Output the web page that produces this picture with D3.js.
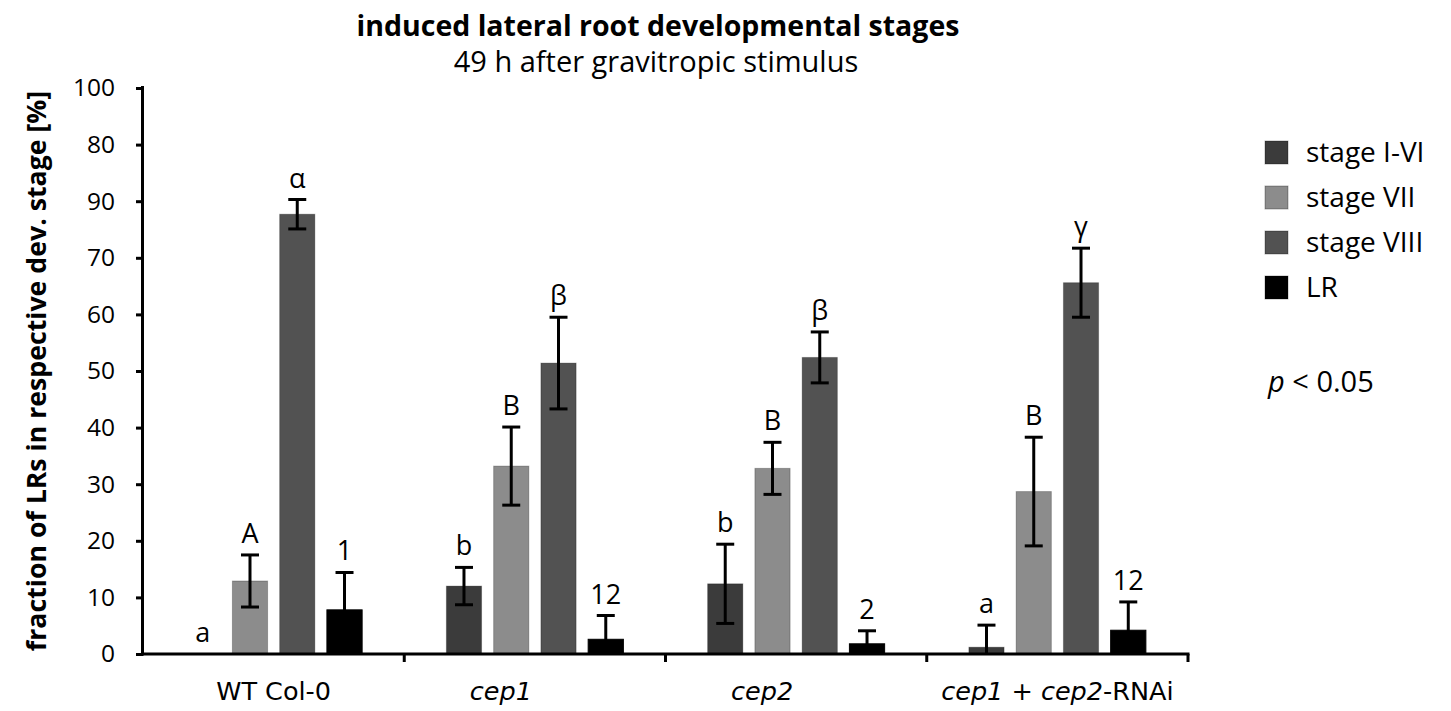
<!DOCTYPE html>
<html>
<head>
<meta charset="utf-8">
<script src="https://cdn.jsdelivr.net/npm/d3@7"></script>
<style>
  body { margin: 0; background: #fff; }
  text { font-family: "Open Sans", sans-serif; fill: #000; }
</style>
</head>
<body>
<script>
// categories and series
const groups = ["WT Col-0", "cep1", "cep2", "cep1 + cep2-RNAi"];
const series = ["stage I-VI", "stage VII", "stage VIII", "LR"];
const seriesColors = ["#3b3b3b", "#8c8c8c", "#525252", "#000000"];

// mean values per series, one entry per group
const stageIVI  = [0.0, 12.0, 12.4, 1.2];
const stageVII  = [12.9, 33.2, 32.8, 28.7];
const stageVIII = [77.7, 51.4, 52.4, 65.6];
const stageLR   = [7.8, 2.6, 1.8, 4.2];

// error (±) per series
const errIVI  = [0, 3.3, 7.0, 3.9];
const errVII  = [4.6, 6.9, 4.6, 9.6];
const errVIII = [2.6, 8.1, 4.5, 6.1];
const errLR   = [6.6, 4.2, 2.3, 5.0];

// significance letters
const lettersIVI  = ["a", "b", "b", "a"];
const lettersVII  = ["A", "B", "B", "B"];
const lettersVIII = ["α", "β", "β", "γ"];
const lettersLR   = ["1", "12", "2", "12"];

// y ticks and their printed labels (as in the original figure)
const yTicks = [0, 10, 20, 30, 40, 50, 60, 70, 80, 90, 100];
const yTickLabels = ["0", "10", "20", "30", "40", "50", "60", "70", "90", "80", "100"];

const width = 1451, height = 711;
const margin = { left: 143, right: 263, top: 88, bottom: 57 };

const svg = d3.select("body").append("svg")
  .attr("width", width)
  .attr("height", height);

const values = [stageIVI, stageVII, stageVIII, stageLR];
const errors = [errIVI, errVII, errVIII, errLR];
const letters = [lettersIVI, lettersVII, lettersVIII, lettersLR];

// flatten into rows for drawing
const rows = [];
groups.forEach((g, gi) => {
  series.forEach((s, si) => {
    rows.push({ group: g, series: s, si: si, value: values[si][gi], err: errors[si][gi], letter: letters[si][gi] });
  });
});

const x0 = d3.scaleBand()
  .domain(groups)
  .range([margin.left, width - margin.right])
  .padding(0);

const groupSpan = 177;
const x1 = d3.scaleBand()
  .domain(series)
  .range([x0.bandwidth() / 2 - groupSpan / 2, x0.bandwidth() / 2 + groupSpan / 2])
  .paddingInner(0.255)
  .paddingOuter(0);

const y = d3.scaleLinear()
  .domain([0, 100])
  .range([height - margin.bottom, margin.top]);

const color = d3.scaleOrdinal().domain(series).range(seriesColors);

// bars
svg.append("g").selectAll("rect")
  .data(rows)
  .enter()
  .append("rect")
  .attr("x", d => x0(d.group) + x1(d.series))
  .attr("y", d => y(d.value))
  .attr("width", x1.bandwidth())
  .attr("height", d => y(0) - y(d.value))
  .attr("fill", d => color(d.series))
  .attr("stroke", d => d.si === 3 ? "#000" : "rgba(0,0,0,0.25)")
  .attr("stroke-width", 1);

// error bars
const capW = 9;
const eb = svg.append("g")
  .attr("stroke", "#000")
  .attr("stroke-width", 3)
  .selectAll("g")
  .data(rows.filter(d => d.err > 0))
  .enter()
  .append("g");

const cx = d => x0(d.group) + x1(d.series) + x1.bandwidth() / 2;
eb.append("line")
  .attr("x1", cx).attr("x2", cx)
  .attr("y1", d => y(d.value + d.err))
  .attr("y2", d => y(Math.max(0, d.value - d.err)));
eb.append("line")
  .attr("x1", d => cx(d) - capW).attr("x2", d => cx(d) + capW)
  .attr("y1", d => y(d.value + d.err))
  .attr("y2", d => y(d.value + d.err));
eb.filter(d => d.value - d.err > 0).append("line")
  .attr("x1", d => cx(d) - capW).attr("x2", d => cx(d) + capW)
  .attr("y1", d => y(d.value - d.err))
  .attr("y2", d => y(d.value - d.err));

// letters above error bars
svg.append("g").selectAll("text")
  .data(rows)
  .enter()
  .append("text")
  .attr("x", cx)
  .attr("y", d => y(d.value + d.err) - 12)
  .attr("text-anchor", "middle")
  .style("font-size", "27px")
  .text(d => d.letter);

// y axis
const yAxis = svg.append("g")
  .attr("transform", `translate(${margin.left},0)`)
  .call(d3.axisLeft(y)
    .tickValues(yTicks)
    .tickSize(7)
    .tickPadding(21)
    .tickFormat((d, i) => yTickLabels[i]));
yAxis.select(".domain").attr("stroke-width", 3).attr("d", `M-0.5,${y(100) - 2}V${y(0) + 1.5}`);
yAxis.selectAll(".tick line").attr("stroke-width", 3);
yAxis.selectAll(".tick text").style("font-size", "24.5px").style("font-family", "'Open Sans', sans-serif");

// x axis
const xAxis = svg.append("g")
  .attr("transform", `translate(0,${y(0)})`);
xAxis.append("line")
  .attr("x1", margin.left - 1.5).attr("x2", width - margin.right + 1.5)
  .attr("y1", 0).attr("y2", 0)
  .attr("stroke", "#000").attr("stroke-width", 3);
xAxis.selectAll(".sep")
  .data(groups.slice(1).concat(["end"]))
  .enter()
  .append("line")
  .attr("x1", d => d === "end" ? width - margin.right : x0(d))
  .attr("x2", d => d === "end" ? width - margin.right : x0(d))
  .attr("y1", 0).attr("y2", 8)
  .attr("stroke", "#000").attr("stroke-width", 3);

// x labels with italic gene names (single mutant labels sit a bit left in the original)
const xLab = xAxis.selectAll(".xl")
  .data(groups)
  .enter()
  .append("text")
  .attr("x", d => x0(d) + x0.bandwidth() / 2 + (d === "cep1" || d === "cep2" ? -34 : 0))
  .attr("y", 46)
  .attr("text-anchor", "middle")
  .style("font-family", "'DejaVu Sans', sans-serif")
  .style("font-size", "25.5px");
xLab.each(function(d) {
  const t = d3.select(this);
  const parts = d === "WT Col-0" ? [[d, false]]
    : d === "cep1 + cep2-RNAi" ? [["cep1", true], [" + ", false], ["cep2", true], ["-RNAi", false]]
    : [[d, true]];
  parts.forEach(p => t.append("tspan").style("font-style", p[1] ? "italic" : "normal").text(p[0]));
});

// y title
svg.append("text")
  .attr("transform", `translate(46,${(y(0) + y(100)) / 2}) rotate(-90)`)
  .attr("text-anchor", "middle")
  .style("font-size", "26.7px")
  .style("font-weight", "bold")
  .text("fraction of LRs in respective dev. stage [%]");

// titles
svg.append("text")
  .attr("x", 658).attr("y", 36)
  .attr("text-anchor", "middle")
  .style("font-size", "28.5px")
  .style("font-weight", "bold")
  .text("induced lateral root developmental stages");
svg.append("text")
  .attr("x", 656).attr("y", 72)
  .attr("text-anchor", "middle")
  .style("font-size", "29px")
  .text("49 h after gravitropic stimulus");

// legend
const legend = svg.append("g").attr("transform", "translate(1265,141)");
const li = legend.selectAll("g")
  .data(series)
  .enter()
  .append("g")
  .attr("transform", (d, i) => `translate(0,${i * 45})`);
li.append("rect")
  .attr("width", 23).attr("height", 23)
  .attr("fill", d => color(d))
  .attr("stroke", "rgba(0,0,0,0.3)");
li.append("text")
  .attr("x", 41).attr("y", 21)
  .style("font-size", "28px")
  .text(d => d);

const pText = svg.append("text")
  .attr("x", 1268).attr("y", 392)
  .style("font-size", "29px");
pText.append("tspan").style("font-style", "italic").text("p");
pText.append("tspan").text(" < 0.05");
</script>
</body>
</html>
